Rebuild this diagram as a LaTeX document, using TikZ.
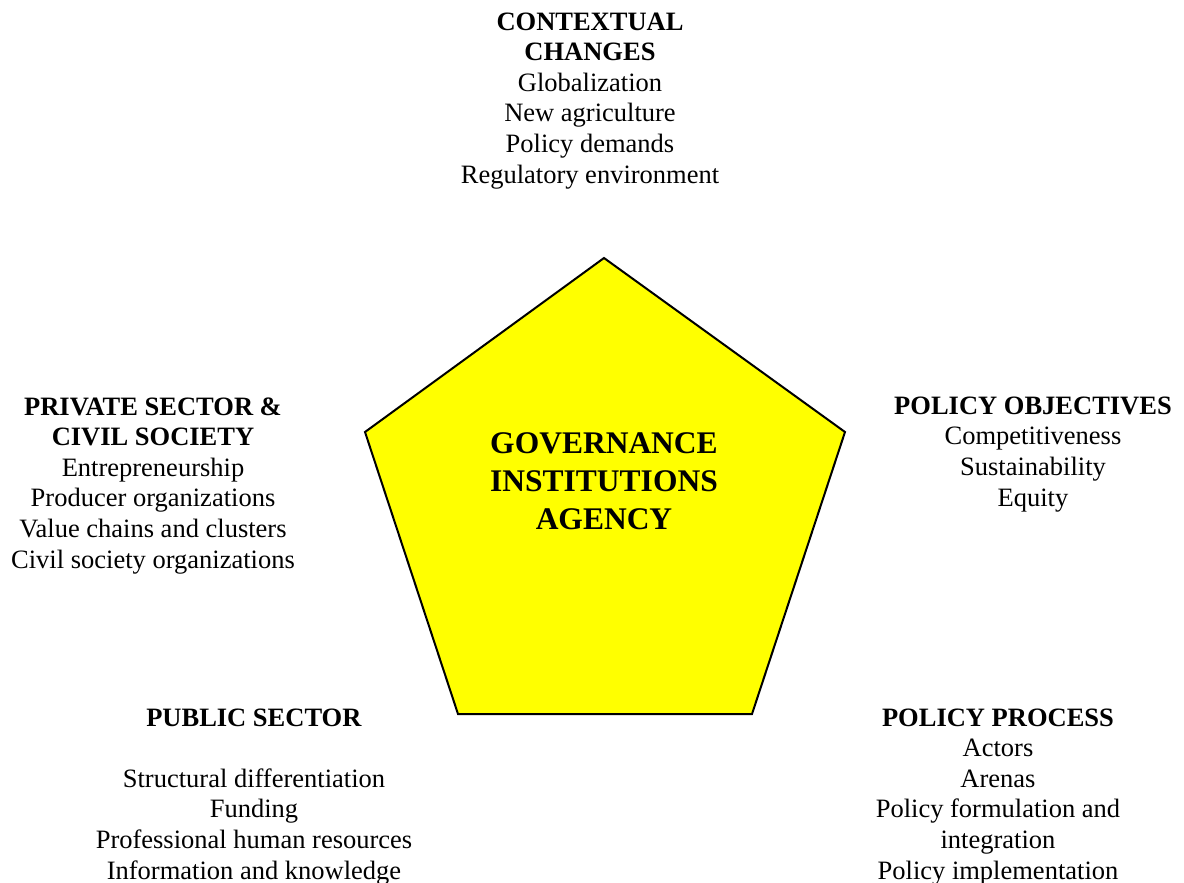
\documentclass[tikz,border=0pt]{standalone}
\usepackage{fontspec}
\setmainfont{Liberation Serif}
\definecolor{penta}{RGB}{255,255,0}
\begin{document}
\begin{tikzpicture}[x=1pt,y=-1pt,
  blk/.style={align=center,inner sep=0pt,anchor=base,font=\fontsize{26.5}{30.6}\selectfont},
  ttl/.style={align=center,inner sep=0pt,anchor=base,font=\fontsize{31.5}{38}\selectfont\bfseries}]
\useasboundingbox (0,0) rectangle (1184,883);
\coordinate (p1) at (604,258);
\coordinate (p2) at (845,432);
\coordinate (p3) at (752,714);
\coordinate (p4) at (458,714);
\coordinate (p5) at (365,432);
\filldraw[fill=penta,draw=black,line width=2pt,line join=miter] (p1) -- (p2) -- (p3) -- (p4) -- (p5) -- cycle;
\node[ttl] (gov) at (604,529) {GOVERNANCE\\INSTITUTIONS\\AGENCY};
\node[blk] (ctx) at (590,183) {\textbf{CONTEXTUAL}\\\textbf{CHANGES}\\Globalization\\New agriculture\\Policy demands\\Regulatory environment};
\node[blk] (prv) at (153,568) {\textbf{PRIVATE SECTOR \&}\\\textbf{CIVIL SOCIETY}\\Entrepreneurship\\Producer organizations\\Value chains and clusters\\Civil society organizations};
\node[blk] (obj) at (1033,506) {\textbf{POLICY OBJECTIVES}\\Competitiveness\\Sustainability\\Equity};
\node[blk] (pub) at (254,879) {\textbf{PUBLIC SECTOR}\\[30.6pt]Structural differentiation\\Funding\\Professional human resources\\Information and knowledge};
\node[blk] (proc) at (998,879) {\textbf{POLICY PROCESS}\\Actors\\Arenas\\Policy formulation and\\integration\\Policy implementation};
\end{tikzpicture}
\end{document}
